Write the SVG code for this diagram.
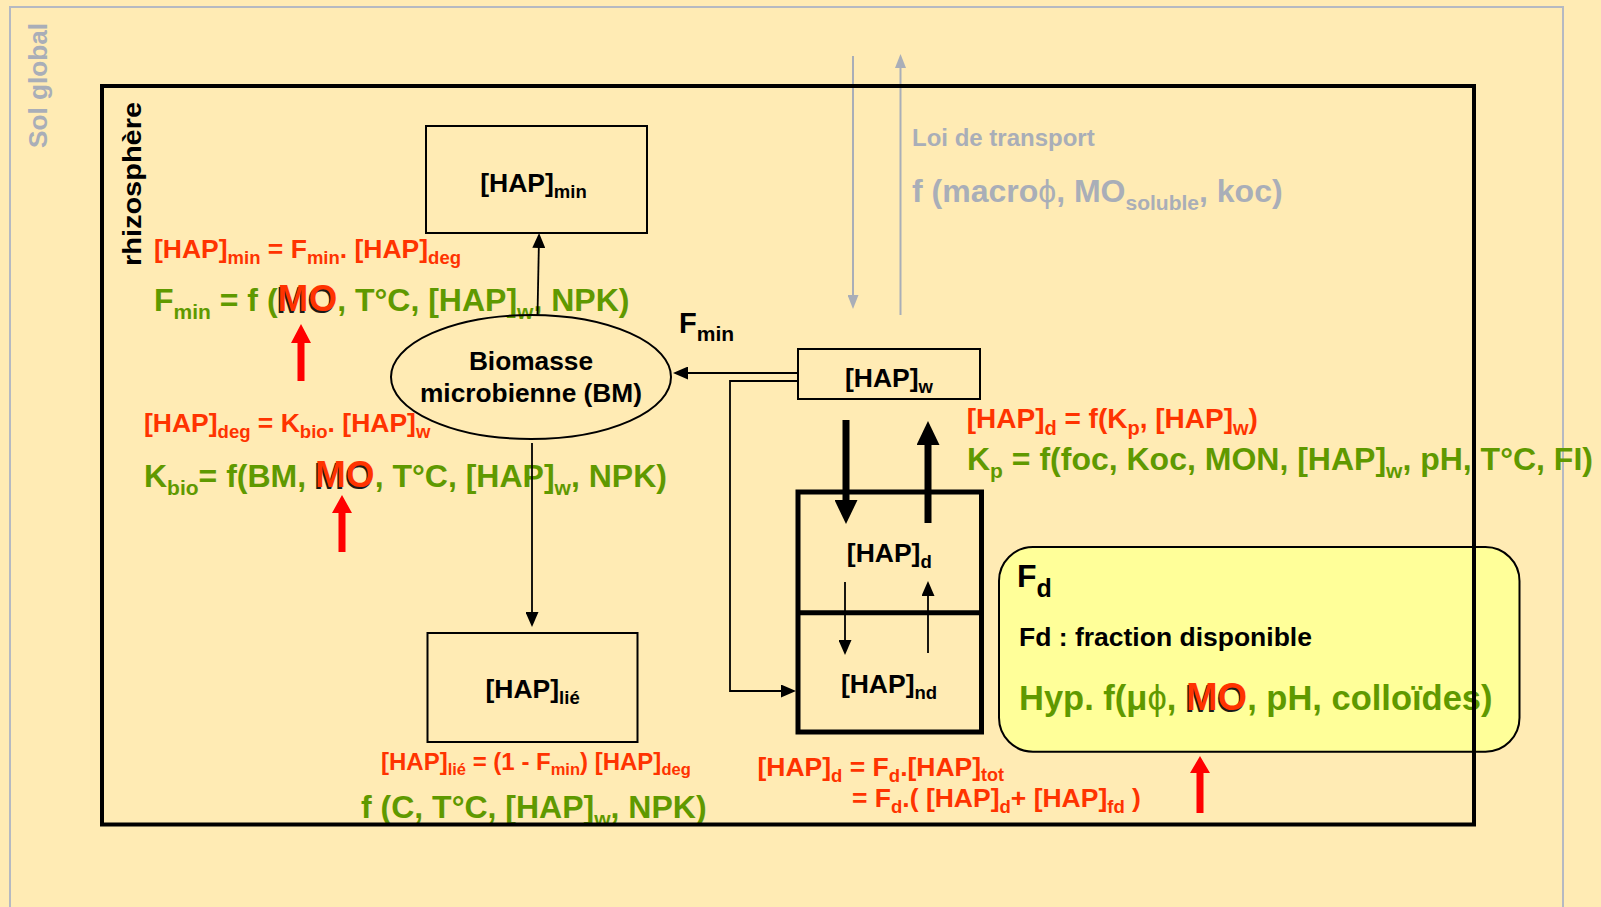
<svg xmlns="http://www.w3.org/2000/svg" width="1601" height="907" viewBox="0 0 1601 907">
<style>
.t{font-family:"Liberation Sans",Arial,sans-serif;font-weight:bold}
.red{fill:#ff3300}
.green{fill:#5f9900}
.gray{fill:#a9aeb8}
.blk{fill:#000}
.box{fill:none;stroke:#000;stroke-width:2}
.thick{fill:none;stroke:#000;stroke-width:5}
.conn{fill:none;stroke:#000;stroke-width:1.8}
.conng{fill:none;stroke:#a9aeb8;stroke-width:2}
.thk{fill:none;stroke:#000;stroke-width:7}
.mo{fill:#ff3300}
.sh{fill:#1a1a1a}
.phi{font-weight:normal}
</style>
<defs>
<marker id="ah" viewBox="0 0 15 13" refX="0" refY="6.5" markerWidth="15" markerHeight="13" markerUnits="userSpaceOnUse" orient="auto"><path d="M0,0 L15,6.5 L0,13 z" fill="#000"/></marker>
<marker id="ahThick" viewBox="0 0 24 23" refX="0" refY="11.5" markerWidth="24" markerHeight="23" markerUnits="userSpaceOnUse" orient="auto"><path d="M0,0 L24,11.5 L0,23 z" fill="#000"/></marker>
<marker id="ahGray" viewBox="0 0 14 11" refX="0" refY="5.5" markerWidth="14" markerHeight="11" markerUnits="userSpaceOnUse" orient="auto"><path d="M0,0 L14,5.5 L0,11 z" fill="#a9aeb8"/></marker>
</defs>
<rect x="0" y="0" width="1601" height="907" fill="#ffebb4"/>
<g id="sol-global">
<path d="M10,907 V7 H1563 V907" fill="none" stroke="#b5b9c2" stroke-width="2"/>
<text class="t gray" font-size="25" transform="translate(47,148) rotate(-90)" textLength="125" lengthAdjust="spacingAndGlyphs">Sol global</text>
</g>
<g id="formulas">
<text class="t red" x="154" y="258" font-size="26.5">[HAP]<tspan font-size="18.5" dy="6">min</tspan><tspan dy="-6"> = F</tspan><tspan font-size="18.5" dy="6">min</tspan><tspan dy="-6">. [HAP]</tspan><tspan font-size="18.5" dy="6">deg</tspan></text>
<text class="t" fill="none" x="152.8" y="312.5" font-size="32">F<tspan font-size="21" dy="8">min</tspan><tspan dy="-8"> = f (</tspan><tspan class="sh" font-size="37">MO</tspan>, T°C, [HAP]<tspan font-size="21" dy="8">w</tspan><tspan dy="-8">, NPK)</tspan></text>
<text class="t green" x="154" y="311" font-size="32">F<tspan font-size="21" dy="8">min</tspan><tspan dy="-8"> = f (</tspan><tspan class="mo" font-size="37">MO</tspan>, T°C, [HAP]<tspan font-size="21" dy="8">w</tspan><tspan dy="-8">, NPK)</tspan></text>
<text class="t red" x="144" y="432" font-size="26.5">[HAP]<tspan font-size="18.5" dy="6">deg</tspan><tspan dy="-6"> = K</tspan><tspan font-size="18.5" dy="6">bio</tspan><tspan dy="-6">. [HAP]</tspan><tspan font-size="18.5" dy="6">w</tspan></text>
<text class="t" fill="none" x="142.8" y="488.5" font-size="32">K<tspan font-size="21" dy="8">bio</tspan><tspan dy="-8">= f(BM, </tspan><tspan class="sh" font-size="37">MO</tspan>, T°C, [HAP]<tspan font-size="21" dy="8">w</tspan><tspan dy="-8">, NPK)</tspan></text>
<text class="t green" x="144" y="487" font-size="32">K<tspan font-size="21" dy="8">bio</tspan><tspan dy="-8">= f(BM, </tspan><tspan class="mo" font-size="37">MO</tspan>, T°C, [HAP]<tspan font-size="21" dy="8">w</tspan><tspan dy="-8">, NPK)</tspan></text>
<text class="t red" x="381" y="770" font-size="24">[HAP]<tspan font-size="16.5" dy="5">lié</tspan><tspan dy="-5"> = (1 - F</tspan><tspan font-size="16.5" dy="5">min</tspan><tspan dy="-5">) [HAP]</tspan><tspan font-size="16.5" dy="5">deg</tspan></text>
<text class="t green" x="361" y="818" font-size="32">f (C, T°C, [HAP]<tspan font-size="21" dy="8">w</tspan><tspan dy="-8">, NPK)</tspan></text>
<text class="t gray" x="912" y="146" font-size="24">Loi de transport</text>
<text class="t gray" x="912" y="202" font-size="32">f (macro<tspan class="phi">ϕ</tspan>, MO<tspan font-size="21" dy="8">soluble</tspan><tspan dy="-8">, koc)</tspan></text>
<text class="t blk" x="679" y="333" font-size="29">F<tspan font-size="21" dy="8">min</tspan></text>
<text class="t red" x="966.7" y="428" font-size="28">[HAP]<tspan font-size="20" dy="7">d</tspan><tspan dy="-7"> = f(K</tspan><tspan font-size="20" dy="7">p</tspan><tspan dy="-7">, [HAP]</tspan><tspan font-size="20" dy="7">w</tspan><tspan dy="-7">)</tspan></text>
<text class="t green" x="967" y="470" font-size="32">K<tspan font-size="21" dy="8">p</tspan><tspan dy="-8"> = f(foc, Koc, MON, [HAP]</tspan><tspan font-size="21" dy="8">w</tspan><tspan dy="-8">, pH, T°C, FI)</tspan></text>
<text class="t red" x="757.5" y="776" font-size="26.5">[HAP]<tspan font-size="18.5" dy="6">d</tspan><tspan dy="-6"> = F</tspan><tspan font-size="18.5" dy="6">d</tspan><tspan dy="-6">.[HAP]</tspan><tspan font-size="18" dy="5">tot</tspan></text>
<text class="t red" x="852" y="807" font-size="26.5">= F<tspan font-size="18.5" dy="6">d</tspan><tspan dy="-6">.( [HAP]</tspan><tspan font-size="18.5" dy="6">d</tspan><tspan dy="-6">+ [HAP]</tspan><tspan font-size="18.5" dy="6">fd</tspan><tspan dy="-6"> )</tspan></text>
<path d="M297.5,381 V343 H291 L301,324 L311,343 H304.5 V381 z" fill="#ff0000"/>
<path d="M338.5,552 V513 H332 L342,495 L352,513 H345.5 V552 z" fill="#ff0000"/>
<path d="M1196.5,813 V773 H1190 L1200,756 L1210,773 H1203.5 V813 z" fill="#ff0000"/>
</g>
<g id="node-hap-min">
<rect class="box" x="426" y="126" width="221" height="107"/>
<text class="t blk" x="533.5" y="192" font-size="26.5" text-anchor="middle">[HAP]<tspan font-size="18.5" dy="6">min</tspan></text>
</g>
<g id="node-biomasse">
<ellipse class="box" cx="531" cy="377" rx="140" ry="62"/>
<text class="t blk" x="531" y="370" font-size="26.3" text-anchor="middle">Biomasse</text>
<text class="t blk" x="531" y="402" font-size="26.3" text-anchor="middle">microbienne (BM)</text>
</g>
<g id="node-hap-w">
<rect class="box" x="798" y="349" width="182" height="50"/>
<text class="t blk" x="889" y="387" font-size="26.5" text-anchor="middle">[HAP]<tspan font-size="18.5" dy="6">w</tspan></text>
</g>
<g id="node-hap-d-nd">
<rect class="thick" x="798" y="492" width="183.5" height="240"/>
<line x1="798" y1="612.7" x2="981.5" y2="612.7" stroke="#000" stroke-width="5"/>
<text class="t blk" x="889.3" y="562" font-size="26.5" text-anchor="middle">[HAP]<tspan font-size="18.5" dy="6">d</tspan></text>
<text class="t blk" x="889" y="693" font-size="26.5" text-anchor="middle">[HAP]<tspan font-size="18.5" dy="6">nd</tspan></text>
</g>
<g id="node-hap-lie">
<rect class="box" x="427.5" y="633" width="210" height="109"/>
<text class="t blk" x="532.6" y="698" font-size="26.5" text-anchor="middle">[HAP]<tspan font-size="18.5" dy="6">lié</tspan></text>
</g>
<g id="node-fd">
<rect x="999" y="547" width="520.5" height="204.7" rx="34" ry="34" fill="#ffff99" stroke="#000" stroke-width="2"/>
<text class="t blk" x="1017" y="587" font-size="32">F<tspan font-size="25" dy="10">d</tspan></text>
<text class="t blk" x="1019" y="646" font-size="26.5">Fd : fraction disponible</text>
<text class="t" fill="none" x="1017.8" y="711.5" font-size="34.5">Hyp. f(μ<tspan class="phi">ϕ</tspan>, <tspan class="sh" font-size="38">MO</tspan>, pH, colloïdes)</text>
<text class="t green" x="1019" y="710" font-size="34.5">Hyp. f(μ<tspan class="phi">ϕ</tspan>, <tspan class="mo" font-size="38">MO</tspan>, pH, colloïdes)</text>
</g>
<g id="connectors">
<line class="conn" x1="537.5" y1="315" x2="538.8" y2="248" marker-end="url(#ah)"/>
<line class="conn" x1="532" y1="443" x2="532" y2="612" marker-end="url(#ah)"/>
<line class="conn" x1="797" y1="373" x2="688" y2="373" marker-end="url(#ah)"/>
<polyline class="conn" points="797,381 730,381 730,691 781,691" marker-end="url(#ah)"/>
<line class="thk" x1="846" y1="420" x2="846" y2="500" marker-end="url(#ahThick)"/>
<line class="thk" x1="928" y1="523" x2="928" y2="445" marker-end="url(#ahThick)"/>
<line class="conn" x1="845" y1="582" x2="845" y2="640" marker-end="url(#ah)"/>
<line class="conn" x1="928" y1="653" x2="928" y2="596" marker-end="url(#ah)"/>
<line class="conng" x1="853" y1="56" x2="853" y2="295" marker-end="url(#ahGray)"/>
<line class="conng" x1="900.5" y1="315" x2="900.5" y2="68" marker-end="url(#ahGray)"/>
</g>
<g id="rhizosphere">
<rect x="102" y="86" width="1372" height="738.5" fill="none" stroke="#000" stroke-width="4"/>
<text class="t blk" font-size="25" transform="translate(141,266) rotate(-90)" textLength="164" lengthAdjust="spacingAndGlyphs">rhizosphère</text>
</g>
</svg>
